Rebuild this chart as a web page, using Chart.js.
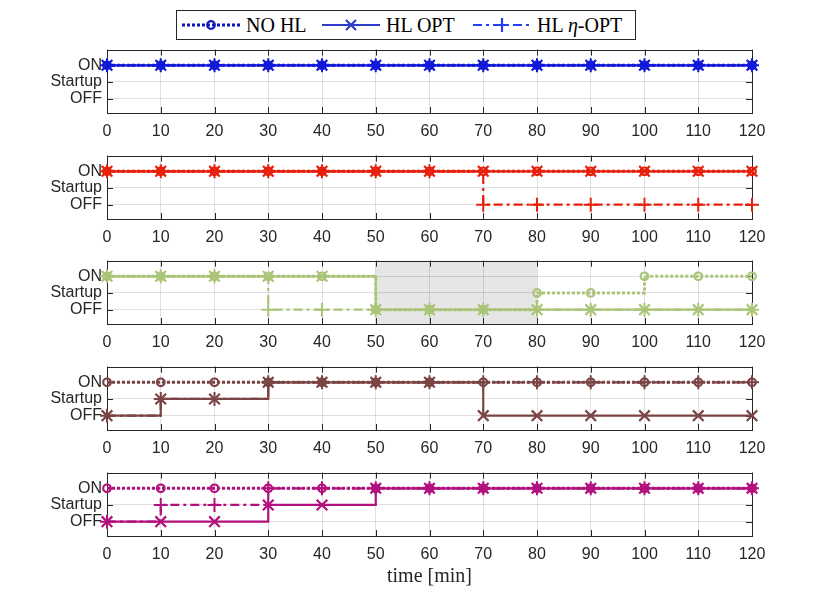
<!DOCTYPE html>
<html>
<head>
<meta charset="utf-8">
<script src="https://cdn.jsdelivr.net/npm/chart.js@4.4.0/dist/chart.umd.min.js"></script>
<style>
  html, body { margin:0; padding:0; background:#fff; }
  #fig { position:relative; width:830px; height:613px; overflow:hidden; background:#fff; }
  #fig canvas { position:absolute; left:0; }
  #legend { position:absolute; left:176px; top:10px; width:458px; height:28px; border:1px solid #262626; background:#fff; z-index:5;
            font-family:"Liberation Serif","Times New Roman",serif; font-size:20px; color:#000; }
  .item { position:absolute; top:0; height:28px; display:flex; align-items:center; }
  .item svg { display:block; }
  .item span { margin-left:6px; white-space:nowrap; }
</style>
</head>
<body>
<div id="fig">
  <div id="legend">
    <div class="item" style="left:5px">
      <svg width="58" height="28"><line x1="0" y1="14" x2="58" y2="14" stroke="#0f16c0" stroke-width="3" stroke-dasharray="3 2"/><circle cx="29" cy="14" r="3.8" fill="none" stroke="#0f16c0" stroke-width="2.2"/></svg>
      <span id="lg0"></span>
    </div>
    <div class="item" style="left:145px">
      <svg width="58" height="28"><line x1="0" y1="14" x2="58" y2="14" stroke="#2e3ccc" stroke-width="2.2"/><path d="M24 9 L34 19 M24 19 L34 9" stroke="#2e3ccc" stroke-width="2.2"/></svg>
      <span id="lg1"></span>
    </div>
    <div class="item" style="left:296px">
      <svg width="58" height="28"><line x1="0" y1="14" x2="58" y2="14" stroke="#2440f5" stroke-width="2.2" stroke-dasharray="9 4 3 4"/><path d="M29 7 L29 21 M23 14 L35 14" stroke="#2440f5" stroke-width="2.2"/></svg>
      <span id="lg2"></span>
    </div>
  </div>
</div>
<script>
// time axis and state levels
const timeMin = [0, 10, 20, 30, 40, 50, 60, 70, 80, 90, 100, 110, 120];
const stateTicks = [0, 1, 2];
const stateLabels = ['OFF', 'Startup', 'ON'];
const seriesLabels = ['NO HL', 'HL OPT', 'HL η-OPT'];

// unit 1 (blue)
const u1NoHL = [2, 2, 2, 2, 2, 2, 2, 2, 2, 2, 2, 2, 2];
const u1Opt  = [2, 2, 2, 2, 2, 2, 2, 2, 2, 2, 2, 2, 2];
const u1Eta  = [2, 2, 2, 2, 2, 2, 2, 2, 2, 2, 2, 2, 2];
// unit 2 (red)
const u2NoHL = [2, 2, 2, 2, 2, 2, 2, 2, 2, 2, 2, 2, 2];
const u2Opt  = [2, 2, 2, 2, 2, 2, 2, 2, 2, 2, 2, 2, 2];
const u2Eta  = [2, 2, 2, 2, 2, 2, 2, 0, 0, 0, 0, 0, 0];
// unit 3 (green)
const u3NoHL = [2, 2, 2, 2, 2, 0, 0, 0, 1, 1, 2, 2, 2];
const u3Opt  = [2, 2, 2, 2, 2, 0, 0, 0, 0, 0, 0, 0, 0];
const u3Eta  = [2, 2, 2, 0, 0, 0, 0, 0, 0, 0, 0, 0, 0];
// unit 4 (brown)
const u4NoHL = [2, 2, 2, 2, 2, 2, 2, 2, 2, 2, 2, 2, 2];
const u4Opt  = [0, 1, 1, 2, 2, 2, 2, 0, 0, 0, 0, 0, 0];
const u4Eta  = [0, 1, 1, 2, 2, 2, 2, 2, 2, 2, 2, 2, 2];
// unit 5 (magenta)
const u5NoHL = [2, 2, 2, 2, 2, 2, 2, 2, 2, 2, 2, 2, 2];
const u5Opt  = [0, 0, 0, 1, 1, 2, 2, 2, 2, 2, 2, 2, 2];
const u5Eta  = [0, 1, 1, 2, 2, 2, 2, 2, 2, 2, 2, 2, 2];

// grey band in unit 3
const shadeRange = [50, 80];

document.getElementById('lg0').textContent = seriesLabels[0];
document.getElementById('lg1').textContent = seriesLabels[1];
document.getElementById('lg2').innerHTML = 'HL <i>η</i>-OPT';

// layout (px)
const axTop = [47, 153, 258, 364, 470];
const axH = 66;
const axLeft = 107, axRight = 752;
const padTop = 12;
const sansFont = '"Liberation Sans", Arial, Helvetica, sans-serif';
const axisColor = '#262626';

const boxPlugin = {
  id: 'box',
  beforeDraw(chart, args, opts) {
    if (!opts.shade) return;
    const {ctx, chartArea: a, scales: {x}} = chart;
    const x0 = x.getPixelForValue(opts.shade[0]);
    const x1 = x.getPixelForValue(opts.shade[1]);
    ctx.save();
    ctx.fillStyle = '#e6e6e6';
    ctx.fillRect(x0, a.top, x1 - x0, a.bottom - a.top);
    ctx.restore();
  },
  beforeDatasetsDraw(chart) {
    const {ctx, chartArea: a, scales: {x, y}} = chart;
    ctx.save();
    ctx.strokeStyle = axisColor;
    ctx.lineWidth = 1;
    ctx.beginPath();
    x.ticks.forEach(t => {
      const px = Math.round(x.getPixelForValue(t.value)) + 0.5;
      ctx.moveTo(px, a.bottom); ctx.lineTo(px, a.bottom - 6);
      ctx.moveTo(px, a.top); ctx.lineTo(px, a.top + 6);
    });
    stateTicks.forEach(v => {
      const py = Math.round(y.getPixelForValue(v)) + 0.5;
      ctx.moveTo(a.left, py); ctx.lineTo(a.left + 6, py);
      ctx.moveTo(a.right, py); ctx.lineTo(a.right - 6, py);
    });
    ctx.stroke();
    ctx.strokeRect(Math.round(a.left) + 0.5, Math.round(a.top) + 0.5,
                   Math.round(a.right - a.left), Math.round(a.bottom - a.top));
    ctx.restore();
  }
};

function makeUnit(i, noHL, opt, eta, color, shade) {
  const last = i === axTop.length - 1;
  const xh = last ? 53 : 34;
  const cv = document.createElement('canvas');
  cv.width = 830;
  cv.height = padTop + axH + xh;
  cv.style.top = (axTop[i] - padTop) + 'px';
  document.getElementById('fig').appendChild(cv);

  const pts = arr => timeMin.map((t, k) => ({x: t, y: arr[k]}));

  new Chart(cv, {
    type: 'line',
    data: {
      datasets: [
        {
          label: seriesLabels[0], data: pts(noHL), stepped: true, order: 2, clip: false,
          borderColor: color, borderWidth: 3, borderDash: [3, 2],
          pointStyle: 'circle', pointRadius: 3.8, pointBorderWidth: 2.2,
          pointBorderColor: color, pointBackgroundColor: 'rgba(0,0,0,0)'
        },
        {
          label: seriesLabels[1], data: pts(opt), stepped: true, order: 1, clip: false,
          borderColor: color, borderWidth: 2.2,
          pointStyle: 'crossRot', pointRadius: 7.5, pointBorderWidth: 2.2,
          pointBorderColor: color, pointBackgroundColor: color
        },
        {
          label: seriesLabels[2], data: pts(eta), stepped: true, order: 0, clip: false,
          borderColor: color, borderWidth: 2.2, borderDash: [9, 4, 3, 4],
          pointStyle: 'cross', pointRadius: 7, pointBorderWidth: 2,
          pointBorderColor: color, pointBackgroundColor: color
        }
      ]
    },
    options: {
      responsive: false,
      animation: false,
      devicePixelRatio: 1,
      layout: { padding: { top: padTop, right: 830 - axRight, left: 0, bottom: 0 } },
      plugins: {
        legend: { display: false },
        tooltip: { enabled: false },
        box: { shade: shade }
      },
      scales: {
        x: {
          type: 'linear', min: 0, max: 120,
          ticks: { stepSize: 10, padding: 9, color: axisColor, maxRotation: 0, autoSkip: false,
                   font: { family: sansFont, size: 16 } },
          grid: { color: 'rgba(0,0,0,0.12)', drawTicks: false },
          border: { display: false },
          title: last
            ? { display: true, text: 'time [min]', color: axisColor, padding: { top: 0, bottom: 0 },
                font: { family: '"Liberation Serif", "Times New Roman", serif', size: 20 } }
            : { display: false },
          afterFit: s => { s.height = xh; }
        },
        y: {
          type: 'linear', min: -0.86, max: 2.94,
          afterBuildTicks: s => { s.ticks = stateTicks.map(v => ({value: v})); },
          ticks: { padding: 5, color: axisColor, font: { family: sansFont, size: 16 },
                   callback: v => stateLabels[v] },
          grid: { color: 'rgba(0,0,0,0.12)', drawTicks: false },
          border: { display: false },
          afterFit: s => { s.width = axLeft; }
        }
      }
    },
    plugins: [boxPlugin]
  });
}

makeUnit(0, u1NoHL, u1Opt, u1Eta, '#1218d8', null);
makeUnit(1, u2NoHL, u2Opt, u2Eta, '#e6200c', null);
makeUnit(2, u3NoHL, u3Opt, u3Eta, '#abc578', shadeRange);
makeUnit(3, u4NoHL, u4Opt, u4Eta, '#7b4444', null);
makeUnit(4, u5NoHL, u5Opt, u5Eta, '#b2107d', null);
</script>
</body>
</html>
